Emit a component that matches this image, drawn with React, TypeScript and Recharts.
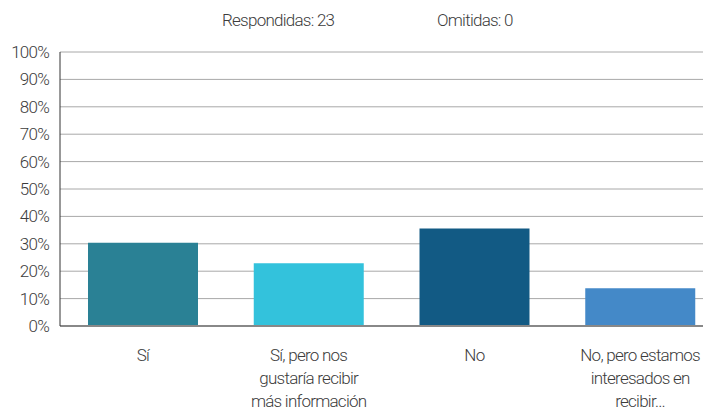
import React from "react";
import { BarChart, Bar, XAxis, YAxis, CartesianGrid, Cell } from "recharts";

const categories = [
  "Sí",
  "Sí, pero nos|gustaría recibir|más información",
  "No",
  "No, pero estamos|interesados en|recibir…",
];
const percentValues = [30.4, 22.9, 35.6, 13.8];
const barColors = ["#2a8195", "#33c2dc", "#125a84", "#4489c8"];
const yTicks = [0, 10, 20, 30, 40, 50, 60, 70, 80, 90, 100];
const headerTexts = ["Respondidas: 23", "Omitidas: 0"];

const data = categories.map((c, i) => ({ name: c, value: percentValues[i] }));

const FONT = "Roboto, 'Noto Sans', sans-serif";
const FS = 17;
const LS = -0.75;

const CategoryTick = (props: any) => {
  const { x, y, payload } = props;
  const lines = String(payload.value).split("|");
  return (
    <text
      x={x}
      y={y}
      textAnchor="middle"
      fill="#3c3c3c"
      fontFamily={FONT}
      fontWeight={300}
      fontSize={FS}
      letterSpacing={LS}
    >
      {lines.map((l, i) => (
        <tspan key={i} x={x} dy={i === 0 ? 27 : 23}>
          {l}
        </tspan>
      ))}
    </text>
  );
};

export default function App() {
  return (
    <div
      style={{
        marginLeft: -8,
        marginTop: -8,
        width: 711,
        height: 410,
        overflow: "hidden",
        position: "relative",
        background: "#fff",
      }}
    >
      <div
        style={{
          position: "absolute",
          top: 10,
          left: 0,
          width: 711,
          fontFamily: FONT,
          fontWeight: 300,
          fontSize: FS,
          color: "#3c3c3c",
          letterSpacing: LS,
        }}
      >
        <span style={{ position: "absolute", left: 222 }}>{headerTexts[0]}</span>
        <span style={{ position: "absolute", left: 437 }}>{headerTexts[1]}</span>
      </div>
      <div style={{ position: "absolute", top: 0, left: 0 }}>
        <BarChart
          width={724}
          height={410}
          data={data}
          margin={{ top: 52, right: 1, bottom: 0, left: 0 }}
        >
          <CartesianGrid horizontal vertical={false} stroke="#a8a8a8" strokeWidth={1} />
          <XAxis
            dataKey="name"
            height={84}
            tickLine={false}
            axisLine={{ stroke: "#888", strokeWidth: 2 }}
            tick={<CategoryTick />}
            interval={0}
          />
          <YAxis
            width={60}
            domain={[0, 100]}
            ticks={yTicks}
            tickLine={false}
            tickMargin={5}
            axisLine={{ stroke: "#333", strokeWidth: 1 }}
            tickFormatter={(v: number) => `${v}%`}
            tick={{
              fill: "#3c3c3c",
              fontFamily: FONT,
              fontWeight: 300,
              fontSize: FS,
              letterSpacing: LS,
            }}
          />
          <Bar dataKey="value" barSize={110} isAnimationActive={false}>
            {data.map((d, i) => (
              <Cell key={i} fill={barColors[i]} />
            ))}
          </Bar>
        </BarChart>
      </div>
    </div>
  );
}
